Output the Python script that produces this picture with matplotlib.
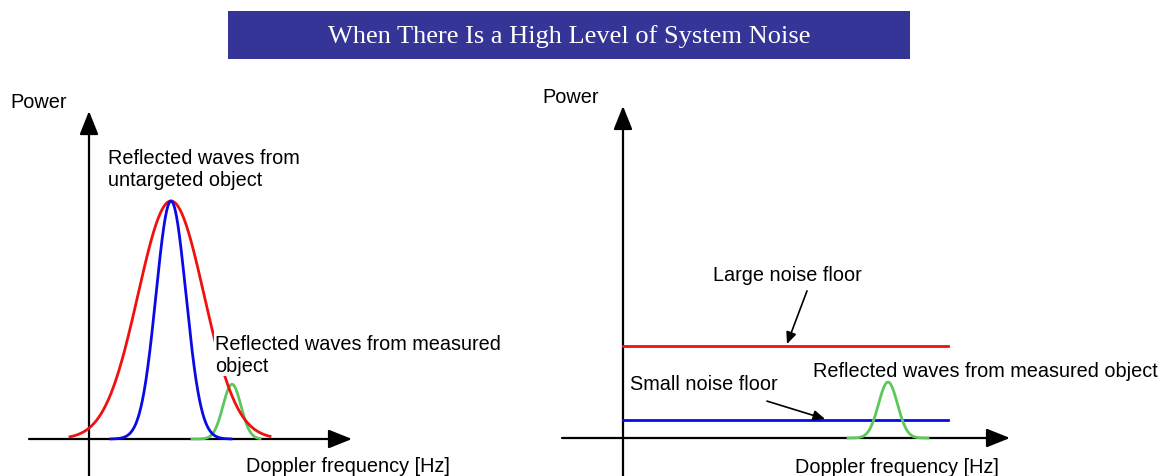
import numpy as np
import matplotlib
matplotlib.use("Agg")
import matplotlib.pyplot as plt
from matplotlib.patches import Rectangle

# ---------------- data ----------------
title = "When There Is a High Level of System Noise"
x_label = "Doppler frequency [Hz]"
y_label = "Power"

# left panel: gaussian spectra (center, sigma, peak power, x-range)
red_peak = dict(center=0.82, sigma=0.33, height=1.0, lo=-0.19, hi=1.81)
blue_peak = dict(center=0.82, sigma=0.15, height=1.0, lo=0.22, hi=1.42)
green_peak_left = dict(center=1.43, sigma=0.09, height=0.23, lo=1.03, hi=1.71)

# right panel: noise floors and measured-object peak
large_noise_floor = 0.387
small_noise_floor = 0.076
floor_x_end = 3.25
green_peak_right = dict(center=2.65, sigma=0.095, height=0.235, lo=2.25, hi=3.05)

left_labels = ["Reflected waves from\nuntargeted object",
               "Reflected waves from measured\nobject"]
right_labels = ["Large noise floor", "Small noise floor",
                "Reflected waves from measured object"]

RED = "#f01010"
BLUE = "#0a0ae6"
GREEN = "#5cc85c"
TITLE_BG = "#353597"
FONT = "Liberation Sans"
FS = 14.3

W, H = 1167, 477
fig = plt.figure(figsize=(W / 100, H / 100), dpi=100)


def gauss(p, n=400):
    x = np.linspace(p["lo"], p["hi"], n)
    y = p["height"] * np.exp(-((x - p["center"]) ** 2) / (2 * p["sigma"] ** 2))
    return x, y


def panel(px_left, px_width, ox, oy):
    """axes spanning figure pixels; data origin at pixel (ox, oy); 100 px per x unit, 238 px per y unit"""
    ax = fig.add_axes([px_left / W, 0, px_width / W, 1])
    ax.set_xlim((px_left - ox) / 100, (px_left + px_width - ox) / 100)
    ax.set_ylim(-(H - oy) / 238, oy / 238)
    ax.axis("off")
    return ax


def axis_arrows(ax, x_start, x_tip, y_tip, y_bottom):
    style = "-|>,head_length=0.4,head_width=0.16"
    ax.annotate("", xy=(x_tip, 0), xytext=(x_start, 0),
                arrowprops=dict(arrowstyle=style, lw=1.6, color="black",
                                mutation_scale=36, shrinkA=0, shrinkB=0))
    ax.annotate("", xy=(0, y_tip), xytext=(0, y_bottom),
                arrowprops=dict(arrowstyle=style, lw=1.6, color="black",
                                mutation_scale=36, shrinkA=0, shrinkB=0))


# ---------------- left panel ----------------
axL = panel(0, 560, 89, 440)
axis_arrows(axL, -0.60, 2.63, 1.378, -0.2)
gx, gy = gauss(green_peak_left)
axL.plot(gx, gy, color=GREEN, lw=2, zorder=3)
rx, ry = gauss(red_peak)
axL.plot(rx, ry, color=RED, lw=2, zorder=4)
bx, by = gauss(blue_peak)
axL.plot(bx, by, color=BLUE, lw=2, zorder=5)

axL.text(-0.79, 1.416, y_label, fontsize=FS, family=FONT, va="center", ha="left")
axL.text(0.19, 1.137, left_labels[0], fontsize=FS, family=FONT, va="center",
         ha="left", linespacing=1.2)
axL.text(1.26, 0.357, left_labels[1], fontsize=FS, family=FONT, va="center",
         ha="left", linespacing=1.2, zorder=6,
         bbox=dict(facecolor="white", edgecolor="none", pad=1))
axL.text(1.57, -0.113, x_label, fontsize=FS, family=FONT, va="center", ha="left")

# ---------------- right panel ----------------
axR = panel(560, 607, 623, 439)
axis_arrows(axR, -0.61, 3.87, 1.395, -0.2)
axR.plot([0, floor_x_end], [large_noise_floor] * 2, color=RED, lw=2, zorder=3)
axR.plot([0, floor_x_end], [small_noise_floor] * 2, color=BLUE, lw=2, zorder=3)
gx, gy = gauss(green_peak_right)
axR.plot(gx, gy, color=GREEN, lw=2, zorder=4)

axR.text(-0.81, 1.433, y_label, fontsize=FS, family=FONT, va="center", ha="left")
axR.text(0.90, 0.689, right_labels[0], fontsize=FS, family=FONT, va="center", ha="left")
axR.text(0.07, 0.227, right_labels[1], fontsize=FS, family=FONT, va="center", ha="left")
axR.text(1.90, 0.282, right_labels[2], fontsize=FS, family=FONT, va="center", ha="left")
axR.text(1.72, -0.118, x_label, fontsize=FS, family=FONT, va="center", ha="left")

small_style = "-|>,head_length=0.5,head_width=0.22"
axR.annotate("", xy=(1.64, large_noise_floor + 0.008), xytext=(1.84, 0.618),
             arrowprops=dict(arrowstyle=small_style, lw=1.2, color="black",
                             mutation_scale=14, shrinkA=0, shrinkB=0))
axR.annotate("", xy=(2.02, small_noise_floor + 0.004), xytext=(1.44, 0.155),
             arrowprops=dict(arrowstyle=small_style, lw=1.2, color="black",
                             mutation_scale=14, shrinkA=0, shrinkB=0))

# ---------------- title banner ----------------
fig.patches.append(Rectangle((228 / W, 1 - 60 / H), 682 / W, 48 / H,
                             transform=fig.transFigure, facecolor=TITLE_BG,
                             edgecolor="none", zorder=0))
fig.text(569 / W, 1 - 37 / H, title, color="white", fontsize=19,
         family="Liberation Serif", ha="center", va="center")

fig.savefig("out.png", dpi=100)
